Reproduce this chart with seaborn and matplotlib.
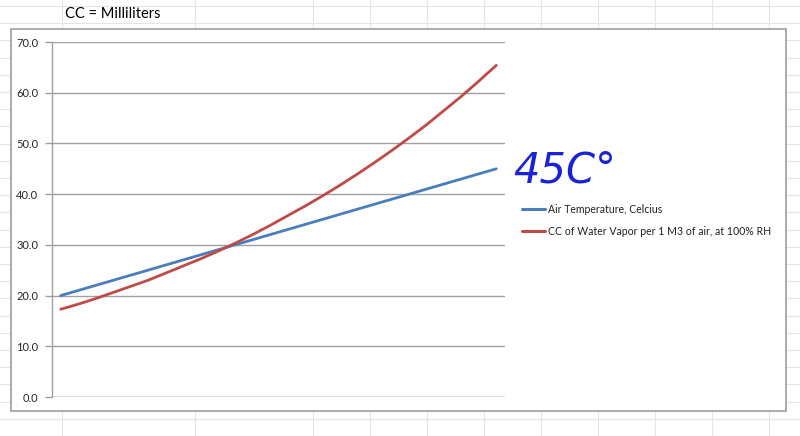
import matplotlib
matplotlib.use("Agg")
import matplotlib.pyplot as plt
import seaborn as sns
import pandas as pd
import numpy as np
from matplotlib.patches import Rectangle

# ---- data ----
temps = list(range(20, 46))
air_temp = [20, 21, 22, 23, 24, 25, 26, 27, 28, 29, 30, 31, 32, 33, 34, 35,
            36, 37, 38, 39, 40, 41, 42, 43, 44, 45]
water_vapor = [17.3, 18.3, 19.4, 20.6, 21.8, 23.0, 24.4, 25.8, 27.2, 28.7, 30.3,
               32.0, 33.8, 35.7, 37.6, 39.6, 41.7, 43.9, 46.2, 48.6, 51.1, 53.7,
               56.5, 59.3, 62.3, 65.4]
series_names = ["Air Temperature, Celcius",
                "CC of Water Vapor per 1 M3 of air, at 100% RH"]
y_ticks = [0, 10, 20, 30, 40, 50, 60, 70]
title_text = "CC = Milliliters"
note_text = "45C°"

sns.set_theme(style="white")
plt.rcParams['font.family'] = ['Lato', 'DejaVu Sans']

W, H = 800, 436
fig = plt.figure(figsize=(W / 100, H / 100), dpi=100)

# spreadsheet background grid
bg = fig.add_axes([0, 0, 1, 1])
bg.set_xlim(0, W)
bg.set_ylim(H, 0)
bg.axis("off")
grid_c = "#e4e4e4"
for yy in np.arange(6, H, 17.2):
    bg.plot([0, W], [yy, yy], color=grid_c, lw=0.8, zorder=0)
for xx in [62, 195, 313, 370, 427, 484, 541, 598, 655, 712, 769]:
    bg.plot([xx, xx], [0, H], color=grid_c, lw=0.8, zorder=0)
bg.add_patch(Rectangle((10.5, 29.5), 775, 381, facecolor="white",
                       edgecolor="#959595", lw=1.1, zorder=1))
bg.text(65, 14, title_text, fontsize=10.5, color="black", va="center",
        ha="left", family=["Lato", "DejaVu Sans"], zorder=2)
bg.text(513, 170, note_text, fontsize=30, color="#1a22d8", va="center",
        ha="left", style="italic", family=["DejaVu Sans"], zorder=2)

# legend drawn in chart area
colors = ["#4A7EBB", "#BE4B48"]
for i, (name, c) in enumerate(zip(series_names, colors)):
    yy = 209 + i * 22
    bg.plot([522, 545], [yy, yy], color=c, lw=2.2, zorder=2)
    bg.text(548, yy, name, fontsize=7.6, va="center", ha="left",
            color="#222222", family=["Lato", "DejaVu Sans"], zorder=2)

# plot area
ax = fig.add_axes([52 / W, 1 - 397 / H, (505 - 52) / W, (397 - 42) / H])
ax.set_facecolor("none")
df = pd.DataFrame({
    "idx": list(range(len(temps))) * 2,
    "value": air_temp + water_vapor,
    "series": [series_names[0]] * len(temps) + [series_names[1]] * len(temps),
})
sns.lineplot(data=df, x="idx", y="value", hue="series", palette=colors,
             linewidth=2.0, ax=ax, legend=False, zorder=3)
ax.set_xlim(-0.5, len(temps) - 0.5)
ax.set_ylim(0, 70)
ax.set_yticks(y_ticks)
ax.set_yticklabels([f"{v:.1f}" for v in y_ticks], fontsize=8.0, color="#262626")
ax.set_xticks([])
ax.set_xlabel("")
ax.set_ylabel("")
ax.yaxis.grid(True, color="#a0a0a0", lw=1.0)
ax.set_axisbelow(True)
for s in ["top", "right", "bottom"]:
    ax.spines[s].set_visible(False)
ax.spines["left"].set_color("#a0a0a0")
ax.spines["left"].set_linewidth(1.0)
ax.tick_params(axis="y", which="major", left=True, length=5, width=1.0,
               color="#a0a0a0", pad=5)
ax.axhline(0, color="#a0a0a0", lw=1.0, zorder=1)

fig.savefig("out.png", dpi=100)
